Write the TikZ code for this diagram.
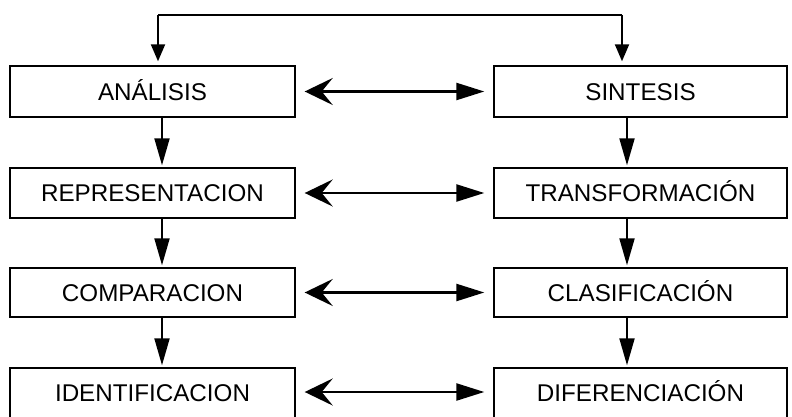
\documentclass[tikz,border=0pt]{standalone}
\usepackage{fontspec}
\setmainfont{Liberation Sans}
\usetikzlibrary{arrows.meta}
\begin{document}
\begin{tikzpicture}[x=1pt,y=-1pt,
  box/.style={draw=black,line width=1.4pt,fill=white,rectangle,inner sep=0pt,
    text height=17.3pt,text depth=0pt,
    font=\fontsize{24.2}{27}\selectfont},
  lbox/.style={box,minimum width=285pt},
  rbox/.style={box,minimum width=293pt},
  varr/.style={line width=2pt,-{Triangle[length=27pt,width=15pt]},shorten >=2pt},
  tarr/.style={line width=2pt,-{Triangle[length=17pt,width=14pt]},shorten >=4pt},
  harr/.style={line width=2.4pt,{Stealth[length=28pt,width=27pt,inset=11pt]}-{Triangle[length=28pt,width=17pt]},shorten <=9pt,shorten >=9pt}]
\useasboundingbox (0,0) rectangle (792,417);
\clip (0,0) rectangle (792,417);
% left column
\node[lbox,minimum height=51pt] (a1) at (152.5,91.5) {ANÁLISIS};
\node[lbox,minimum height=50pt] (a2) at (152.5,193) {REPRESENTACION};
\node[lbox,minimum height=49pt] (a3) at (152.5,292.5) {COMPARACION};
\node[lbox,minimum height=50pt] (a4) at (152.5,393) {IDENTIFICACION};
% right column
\node[rbox,minimum height=51pt] (s1) at (640.5,91.5) {SINTESIS};
\node[rbox,minimum height=50pt] (s2) at (640.5,193) {TRANSFORMACIÓN};
\node[rbox,minimum height=49pt] (s3) at (640.5,292.5) {CLASIFICACIÓN};
\node[rbox,minimum height=50pt] (s4) at (640.5,393) {DIFERENCIACIÓN};
% top connector
\coordinate (tl) at (158,15);
\coordinate (tr) at (622,15);
\coordinate (xl) at (162,0);
\coordinate (xr) at (627,0);
\draw[line width=1.4pt] (tl) -- (tr);
\draw[tarr] (tl) -- (a1.north -| tl);
\draw[tarr] (tr) -- (s1.north -| tr);
% vertical arrows
\draw[varr] (a1.south -| xl) -- (a2.north -| xl);
\draw[varr] (a2.south -| xl) -- (a3.north -| xl);
\draw[varr] (a3.south -| xl) -- (a4.north -| xl);
\draw[varr] (s1.south -| xr) -- (s2.north -| xr);
\draw[varr] (s2.south -| xr) -- (s3.north -| xr);
\draw[varr] (s3.south -| xr) -- (s4.north -| xr);
% horizontal double arrows
\draw[harr] (a1.east) -- (s1.west);
\draw[harr] (a2.east) -- (s2.west);
\draw[harr] (a3.east) -- (s3.west);
\draw[harr] (a4.east |- 0,392) -- (s4.west |- 0,392);
\end{tikzpicture}
\end{document}
